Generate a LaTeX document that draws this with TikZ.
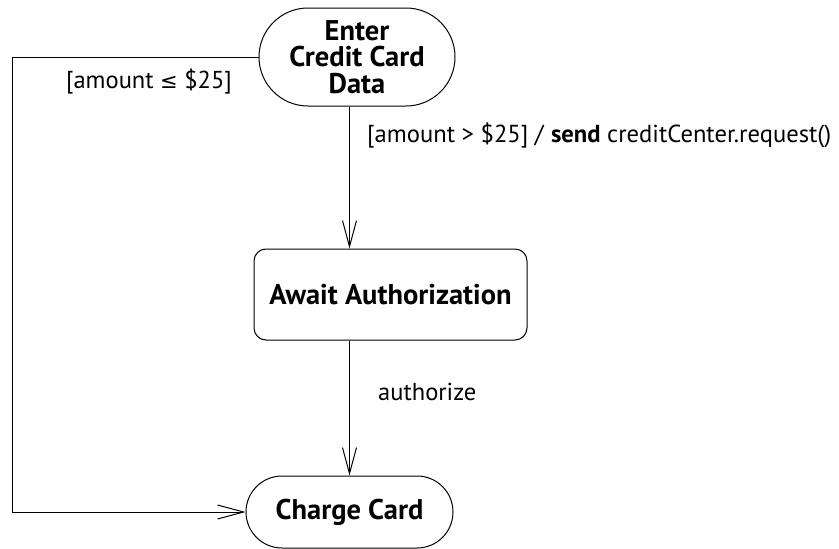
\documentclass[tikz,border=0pt]{standalone}
\usepackage{fontspec}
\setmainfont{PT Sans}
\newfontfamily\symfont{DejaVu Sans}
\usetikzlibrary{arrows.meta, shapes.misc, positioning}
\tikzset{>={Straight Barb[length=26pt, width=14pt]}}
\tikzset{state/.style={draw, line width=1pt, align=center, inner sep=0pt, font=\fontsize{28.5}{26.5}\selectfont\bfseries}}
\tikzset{guard/.style={font=\fontsize{24.5}{30}\selectfont, inner sep=0pt}}

\begin{document}
\begin{tikzpicture}[x=1pt, y=-1pt]
	% Frame:
	\useasboundingbox (0,0) rectangle (839,549);
	% States:
	\node[state, rounded rectangle, minimum width=196pt, minimum height=98pt] (enter) at (357,57){Enter\\Credit Card\\Data};
	\node[state, rectangle, rounded corners=12pt, minimum width=273pt, minimum height=91pt] (await) at (390.5,294.5){Await Authorization};
	\node[state, rounded rectangle, minimum width=207pt, minimum height=72pt] (charge) at (349.5,512){Charge Card};
	\coordinate (corner) at (12,57);
	% Transitions:
	\draw[->, line width=1pt] (enter.south -| charge.north) -- (await.north -| charge.north);
	\draw[->, line width=1pt] (await.south -| charge.north) -- (charge.north);
	\draw[->, line width=1pt] (enter.west) -- (corner) |- (charge.west);
	% Labels:
	\node[guard, anchor=center] (low) at (149,82){[amount {\symfont\fontsize{21}{26}\selectfont ≤} \$25]};
	\node[guard, anchor=west, font=\fontsize{24.6}{30}\selectfont] (high) at (367,135){[amount > \$25] / \textbf{send} creditCenter.request()};
	\node[guard, anchor=west] (auth) at (378,392){authorize};
\end{tikzpicture}
\end{document}
